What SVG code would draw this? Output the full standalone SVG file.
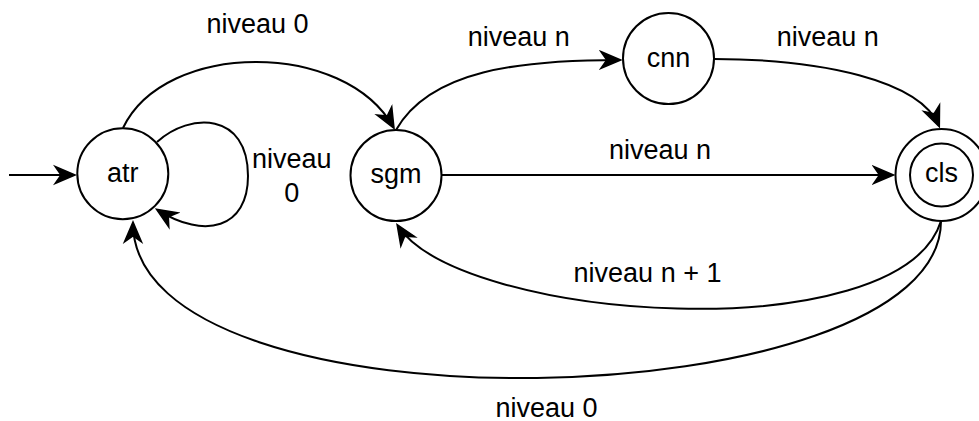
<svg xmlns="http://www.w3.org/2000/svg" width="979" height="421" viewBox="0 0 979 421">
<style>
.node{fill:#fff;stroke:#000;stroke-width:2}
.edge{fill:none;stroke:#000;stroke-width:2;marker-end:url(#arr)}
text{font-family:"Liberation Sans",Arial,sans-serif;font-size:27px;fill:#000;text-anchor:middle}
</style>
<defs>
<marker id="arr" viewBox="-2 -12 26 24" markerWidth="26" markerHeight="24" refX="18.9" refY="0" orient="auto" markerUnits="userSpaceOnUse">
<path d="M0,-8.5 L20,0 L0,8.5 L6,0 Z" fill="#000" stroke="#000" stroke-width="1.5"/>
</marker>
</defs>
<rect width="979" height="421" fill="#fff"/>
<g id="edges">
<path class="edge" d="M9,175 L74,175"/>
<path class="edge" d="M123,128 C165,40 345,40 393.5,127.4"/>
<path class="edge" d="M157,142 C190,112 248,112 248,176 C248,228 205,240 157.4,209.8"/>
<path class="edge" d="M396,130 C430,70 520,60 619.7,60"/>
<path class="edge" d="M714,59 C820,59 920,80 938.9,125.7"/>
<path class="edge" d="M441.5,175 L892.5,175"/>
<path class="edge" d="M941,221 C900,352 460,322 397.7,225.5"/>
<path class="edge" d="M941,221 C941,420 133,440 133,223"/>
<text x="257.5" y="33">niveau 0</text>
<text x="291.7" y="168.3">niveau</text>
<text x="291.7" y="201.7">0</text>
<text x="518.8" y="45.5">niveau n</text>
<text x="827.8" y="45.5">niveau n</text>
<text x="660" y="159.3">niveau n</text>
<text x="647.5" y="281.7">niveau n + 1</text>
<text x="546.5" y="416.5">niveau 0</text>
</g>
<g id="atr"><circle class="node" cx="122.8" cy="173.7" r="45.5"/><text x="122.8" y="181.7">atr</text></g>
<g id="sgm"><circle class="node" cx="396" cy="175.5" r="45.5"/><text x="396" y="182.5">sgm</text></g>
<g id="cnn"><circle class="node" cx="668.5" cy="58.5" r="45.5"/><text x="668.5" y="66.7">cnn</text></g>
<g id="cls"><circle class="node" cx="941.5" cy="175" r="46"/><circle class="node" cx="941.5" cy="175" r="31.5"/><text x="941.5" y="182">cls</text></g>
</svg>
